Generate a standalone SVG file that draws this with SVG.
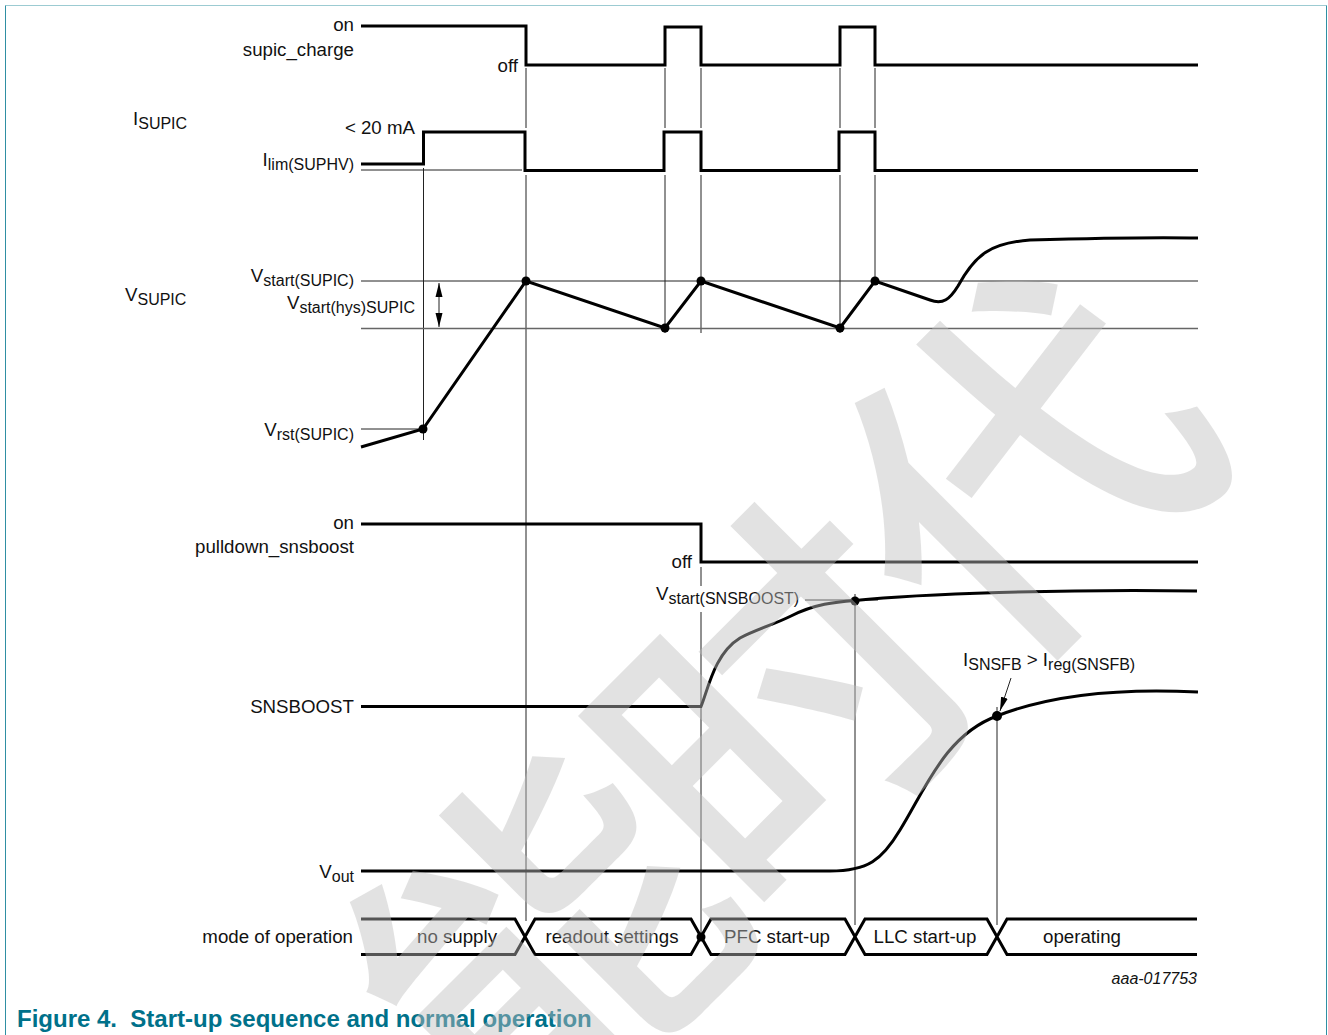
<svg xmlns="http://www.w3.org/2000/svg" width="1328" height="1035" viewBox="0 0 1328 1035">
<style>
text{font-family:"Liberation Sans",Arial,sans-serif;font-size:18.7px;fill:#111}
.r{text-anchor:end}
.m{text-anchor:middle}
.s{font-size:16px}
.w{fill:none;stroke:#000;stroke-width:3;stroke-linejoin:miter}
.t{fill:none;stroke:#222;stroke-width:1}
.g{fill:none;stroke:#666;stroke-width:1.500}
.d{fill:#000}
</style>
<defs>
<marker id="a" markerWidth="14" markerHeight="8" refX="14" refY="4" orient="auto-start-reverse" markerUnits="userSpaceOnUse"><path d="M0 0.500 L14 4 L0 7.500 Z" fill="#000"/></marker>
</defs>
<rect width="1328" height="1035" fill="#fff"/>
<g id="frame" fill="none" stroke-width="1">
<path d="M5.500 5.500H1326.500" stroke="#9ccbd2"/>
<path d="M5.500 1035V5.500M1326.500 5.500V1035" stroke="#2f8fa3"/>
</g>
<g id="connectors">
<path class="t" d="M526 68V128M526 175V921M665 68V128M701 68V128M840 68V128M875 68V128M665 175V333M701 175V333M840 175V333M875 175V285M423.500 168V440M701 567V586M701 612V940M855 594V925M997 707V925"/>
<path class="t" d="M361 170H522M361 281H1198M361 429H423"/>
<path class="g" d="M361 328.500H1198"/>
<path class="t" d="M805 600H878"/>
<path class="t" d="M439 283V327" marker-start="url(#a)" marker-end="url(#a)"/>
<path class="t" d="M1011 678L1000 711" marker-end="url(#a)"/>
<path class="w" d="M361 26H526V65H665V27H701V65H840V27H875V65H1198"/>
<path class="w" d="M361 164H423.500V132H525V170.500H664V132H701V170.500H839V132H875V170.500H1198"/>
<path class="w" d="M361 447L423 429L526 281L665 328L701 281L840 328L875 281L930 300C943 305 950 299 958 286C975 255 990 243 1030 240C1100 238 1150 237 1198 238"/>
<path class="w" d="M361 524H701V562H1198"/>
<path class="w" d="M361 706.500H701C708 690 714 654 740 638C755 630 775 624 791 616C815 604 835 602 855 600.500C920 594 1060 589 1197 591"/>
<path class="w" d="M361 871H830C868 871 882 860 900 830C925 790 945 735 997 716C1050 695 1120 688 1198 692"/>
<path class="w" d="M361 919H515L535 954.500H691L711 919H845L865 954.500H987L1007 919H1197M361 954.500H515L535 919H691L711 954.500H845L865 919H987L1007 954.500H1197"/>
</g>
<g id="dots">
<circle class="d" cx="423" cy="429" r="4.500"/><circle class="d" cx="526" cy="281" r="4.500"/><circle class="d" cx="665" cy="328" r="4.500"/><circle class="d" cx="701" cy="281" r="4.500"/><circle class="d" cx="840" cy="328" r="4.500"/><circle class="d" cx="875" cy="281" r="4.500"/><circle class="d" cx="855" cy="601" r="4.500"/><circle class="d" cx="997" cy="716" r="5"/><circle class="d" cx="701" cy="937" r="4.500"/>
</g>
<g id="labels">
<text class="r" x="354" y="31">on</text>
<text class="r" x="354" y="56">supic_charge</text>
<text class="r" x="518" y="72">off</text>
<text x="133" y="125">I<tspan class="s" dy="4">SUPIC</tspan></text>
<text class="r" x="415" y="134">&lt; 20 mA</text>
<text class="r" x="354" y="166">I<tspan class="s" dy="4">lim(SUPHV)</tspan></text>
<text x="125" y="301">V<tspan class="s" dy="4">SUPIC</tspan></text>
<text class="r" x="354" y="282">V<tspan class="s" dy="4">start(SUPIC)</tspan></text>
<text class="r" x="415" y="309">V<tspan class="s" dy="4">start(hys)SUPIC</tspan></text>
<text class="r" x="354" y="436">V<tspan class="s" dy="4">rst(SUPIC)</tspan></text>
<text class="r" x="354" y="529">on</text>
<text class="r" x="354" y="553">pulldown_snsboost</text>
<text class="r" x="692" y="568">off</text>
<text x="656" y="600">V<tspan class="s" dy="4">start(SNSBOOST)</tspan></text>
<text x="963" y="666">I<tspan class="s" dy="4">SNSFB</tspan><tspan dy="-4"> &gt; I</tspan><tspan class="s" dy="4">reg(SNSFB)</tspan></text>
<text class="r" x="354" y="713">SNSBOOST</text>
<text class="r" x="354" y="878">V<tspan class="s" dy="4">out</tspan></text>
<text class="r" x="353" y="943">mode of operation</text>
<text class="m" x="457" y="943">no supply</text>
<text class="m" x="612" y="943">readout settings</text>
<text class="m" x="777" y="943">PFC start-up</text>
<text class="m" x="925" y="943">LLC start-up</text>
<text class="m" x="1082" y="943">operating</text>
<text class="r" x="1197" y="984" style="font-size:16px;font-style:italic">aaa-017753</text>
<text x="17" y="1027" xml:space="preserve" style="font-size:24px;font-weight:bold;fill:#00718a">Figure 4.  Start-up sequence and normal operation</text>
</g>
<text id="watermark" transform="translate(1240 437) rotate(-45)" text-anchor="end" dx="0 -18 -18" style="font-family:'Noto Sans CJK SC',sans-serif;font-size:355px;font-weight:500;fill:#bebebe;fill-opacity:.447">能时代</text>
</svg>
